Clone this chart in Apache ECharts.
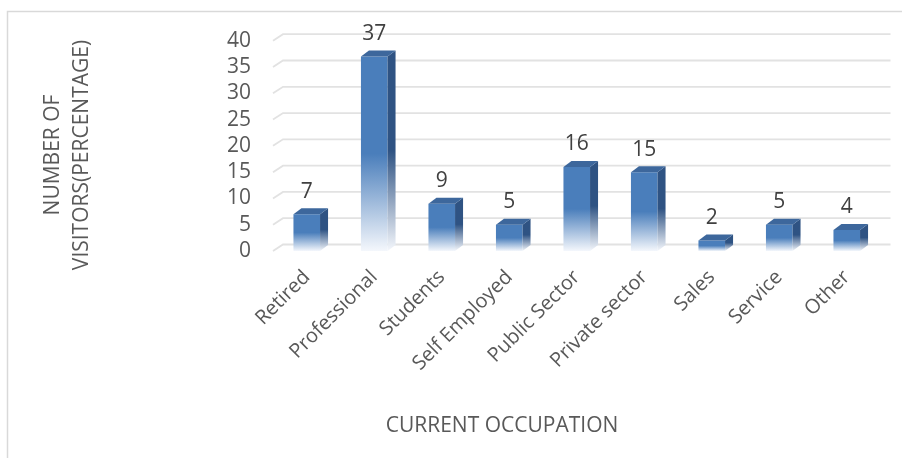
<!DOCTYPE html>
<html>
<head>
<meta charset="utf-8">
<style>
  html, body { margin: 0; padding: 0; background: #ffffff; }
  #chart { width: 902px; height: 458px; }
</style>
<script src="https://cdn.jsdelivr.net/npm/echarts@6/dist/echarts.min.js"></script>
</head>
<body>
<div id="chart"></div>
<script>
// Occupation breakdown of visitors (percent)
const categories = ['Retired', 'Professional', 'Students', 'Self Employed', 'Public Sector', 'Private sector', 'Sales', 'Service', 'Other'];
const visitorShare = [7, 37, 9, 5, 16, 15, 2, 5, 4];
const yTicks = [0, 5, 10, 15, 20, 25, 30, 35, 40];

const FONT = '"Open Sans", "Noto Sans", sans-serif';
const FRONT = '#4a7ebb';
const TOP = '#3d679c';
const SIDE = '#2f5383';

// depth of the pseudo-3D boxes and of the back wall
const BAR_DX = 8, BAR_DY = -6;
const WALL_DX = 10, WALL_DY = -6.5;

const chart = echarts.init(document.getElementById('chart'), null, { renderer: 'canvas' });

function fade(color) {
  return {
    type: 'linear', x: 0, y: 0, x2: 0, y2: 1,
    colorStops: [
      { offset: 0, color: color },
      { offset: 0.5, color: color },
      { offset: 1, color: '#f4f7fc' }
    ]
  };
}

chart.setOption({
  animation: false,
  backgroundColor: '#ffffff',
  grid: { left: 273, top: 40.7, width: 607.5, height: 210.3, containLabel: false },
  xAxis: {
    type: 'category',
    data: categories,
    axisLine: { show: false },
    axisTick: { show: false },
    splitLine: { show: false },
    axisLabel: {
      rotate: 45,
      interval: 0,
      margin: 23,
      verticalAlign: 'middle',
      color: '#595959',
      fontFamily: FONT,
      fontSize: 20
    }
  },
  yAxis: {
    type: 'value',
    min: 0,
    max: 40,
    interval: 5,
    axisLine: { show: false },
    axisTick: { show: false },
    splitLine: { show: false },
    axisLabel: {
      margin: 22,
      color: '#595959',
      fontFamily: FONT,
      fontSize: 21
    }
  },
  graphic: [
    {
      type: 'rect',
      shape: { x: 7.5, y: 11.5, width: 1200, height: 1200 },
      style: { fill: 'none', stroke: '#d9d9d9', lineWidth: 1.5 },
      silent: true
    },
    {
      type: 'text',
      x: 68, y: 155,
      rotation: Math.PI / 2,
      style: {
        text: 'NUMBER OF\nVISITORS(PERCENTAGE)',
        align: 'center', verticalAlign: 'middle',
        lineHeight: 29,
        fill: '#595959', font: '21px ' + FONT
      }
    },
    {
      type: 'text',
      x: 502, y: 426,
      style: {
        text: 'CURRENT OCCUPATION',
        align: 'center', verticalAlign: 'middle',
        fill: '#595959', font: '21px ' + FONT
      }
    }
  ],
  series: [
    {
      // back wall gridlines with the floor-side diagonal
      type: 'custom',
      z: 1,
      silent: true,
      data: yTicks.map(v => [0, v]),
      renderItem: function (params, api) {
        const cs = params.coordSys;
        const y = api.coord([0, api.value(1)])[1];
        const x0 = cs.x, x1 = cs.x + cs.width;
        return {
          type: 'polyline',
          shape: { points: [[x0, y], [x0 + WALL_DX, y + WALL_DY], [x1 + WALL_DX, y + WALL_DY]] },
          style: { stroke: '#e2e2e2', lineWidth: 1.8, fill: null }
        };
      }
    },
    {
      // 3D-style columns with value labels
      type: 'custom',
      z: 2,
      data: visitorShare.map((v, i) => [i, v]),
      renderItem: function (params, api) {
        const i = api.value(0), v = api.value(1);
        const base = api.coord([i, 0]);
        const top = api.coord([i, v]);
        const bw = api.size([1, 0])[0] * 0.394;
        const x0 = base[0] - bw / 2, x1 = x0 + bw;
        const ty = top[1], by = base[1];
        return {
          type: 'group',
          children: [
            {
              type: 'rect',
              shape: { x: x0, y: ty, width: bw, height: by - ty },
              style: { fill: fade(FRONT) }
            },
            {
              type: 'polygon',
              shape: { points: [[x1, ty], [x1 + BAR_DX, ty + BAR_DY], [x1 + BAR_DX, by + BAR_DY], [x1, by]] },
              style: { fill: fade(SIDE) }
            },
            {
              type: 'polygon',
              shape: { points: [[x0, ty], [x0 + BAR_DX, ty + BAR_DY], [x1 + BAR_DX, ty + BAR_DY], [x1, ty]] },
              style: { fill: TOP }
            },
            {
              type: 'text',
              style: {
                x: base[0], y: ty - 12,
                text: String(v),
                align: 'center', verticalAlign: 'bottom',
                fill: '#404040', font: '21px ' + FONT
              }
            }
          ]
        };
      }
    }
  ]
});
</script>
</body>
</html>
